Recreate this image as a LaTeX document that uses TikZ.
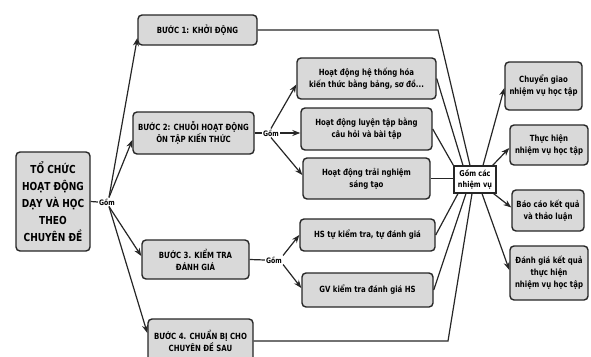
\documentclass[tikz,border=0pt]{standalone}
\usepackage{fontspec}
\setmainfont{DejaVu Sans}[FakeStretch=0.82]
\usetikzlibrary{arrows.meta}
\begin{document}
\begin{tikzpicture}[
  x=1pt, y=-1pt,
  font=\bfseries\fontsize{8.5}{12}\selectfont,
  box/.style={draw=boxline, line width=1.4pt, fill=boxfill, rounded corners=4pt,
              align=center, inner sep=2pt},
  hub/.style={draw=boxline, line width=1.1pt, fill=white, align=center,
              inner sep=1.5pt, minimum width=42pt, minimum height=27pt,
              font=\bfseries\fontsize{8}{11}\selectfont},
  lbl/.style={font=\bfseries\fontsize{7.5}{9}\selectfont, inner sep=1pt},
  link/.style={draw=boxline, line width=1.2pt},
  >={Stealth[length=8pt,width=6pt]}
]
  \definecolor{boxfill}{HTML}{D9D9D9}
  \definecolor{boxline}{HTML}{262626}
  \useasboundingbox (0,0) rectangle (591,356);

  % ================= ROOT =================
  \node[box, minimum width=74pt, minimum height=99pt,
        font=\bfseries\fontsize{11}{17}\selectfont] (root) at (53,201.5)
    {TỔ CHỨC\\HOẠT ĐỘNG\\DẠY VÀ HỌC\\THEO\\CHUYÊN ĐỀ};
  \node[lbl] (g1) at (107,202) {Gồm};

  % ================= STEPS =================
  \node[box, minimum width=119pt, minimum height=30pt] (b1) at (197.5,30)
    {BƯỚC 1: KHỞI ĐỘNG};
  \node[box, minimum width=121pt, minimum height=42pt] (b2) at (193.5,133)
    {BƯỚC 2: CHUỖI HOẠT ĐỘNG\\ÔN TẬP KIẾN THỨC};
  \node[box, minimum width=107pt, minimum height=39pt] (b3) at (195.5,259.5)
    {BƯỚC 3. KIỂM TRA\\ĐÁNH GIÁ};
  \node[box, minimum width=105pt, minimum height=44pt] (b4) at (200.5,341)
    {BƯỚC 4. CHUẨN BỊ CHO\\CHUYÊN ĐỀ SAU};

  \node[lbl] (g2) at (271,133) {Gồm};
  \node[lbl] (g3) at (274,260) {Gồm};

  % ================= ACTIVITIES =================
  \node[box, minimum width=139pt, minimum height=41pt] (h1) at (366.5,78.5)
    {Hoạt động hệ thống hóa\\kiến thức bằng bảng, sơ đồ...};
  \node[box, minimum width=131pt, minimum height=42pt] (h2) at (366.5,129)
    {Hoạt động luyện tập bằng\\câu hỏi và bài tập};
  \node[box, minimum width=127pt, minimum height=41pt] (h3) at (366.5,178.5)
    {Hoạt động trải nghiệm\\sáng tạo};
  \node[box, minimum width=135pt, minimum height=32pt] (k1) at (367.5,235)
    {HS tự kiểm tra, tự đánh giá};
  \node[box, minimum width=131pt, minimum height=34pt] (k2) at (367.5,290)
    {GV kiểm tra đánh giá HS};

  % ================= TASKS =================
  \node[hub] (gc) at (475,179.5) {Gồm các\\nhiệm vụ};
  \node[box, minimum width=77pt, minimum height=48pt] (r1) at (543.5,86)
    {Chuyển giao\\nhiệm vụ học tập};
  \node[box, minimum width=78pt, minimum height=40pt] (r2) at (549,145)
    {Thực hiện\\nhiệm vụ học tập};
  \node[box, minimum width=72pt, minimum height=41pt] (r3) at (548,210.5)
    {Báo cáo kết quả\\và thảo luận};
  \node[box, minimum width=78pt, minimum height=54pt] (r4) at (549,273)
    {Đánh giá kết quả\\thực hiện\\nhiệm vụ học tập};

  \coordinate (c1) at (438,30);
  \coordinate (c4) at (448,341);

  % ================= CONNECTORS =================
  \draw[link] (root.east) -- (g1.west);
  \draw[link, ->] ([xshift=2pt]g1.north) -- ([yshift=-8pt]b1.west);
  \draw[link, ->] ([xshift=2pt]g1.north) -- ([yshift=-7pt]b2.west);
  \draw[link, ->] ([xshift=2pt]g1.south) -- ([yshift=3.5pt]b3.west);
  \draw[link, ->] ([xshift=2pt]g1.south) -- ([yshift=8pt]b4.west);

  \draw[link] (b2.east) -- (g2.west);
  \draw[link, ->] (g2.north) -- ([yshift=-6pt]h1.west);
  \draw[link, ->] (g2.east) -- ([yshift=-4pt]h2.west);
  \draw[link, ->] (g2.south) -- ([yshift=3.5pt]h3.west);

  \draw[link] (b3.east) -- (g3.west);
  \draw[link, ->] (g3.north east) -- (k1.west);
  \draw[link, ->] (g3.south east) -- ([yshift=2pt]k2.west);

  \draw[link] (b1.east) -- (c1) -- ([xshift=-5pt]gc.north);
  \draw[link] (h1.east) -- ([xshift=-12pt]gc.north);
  \draw[link] (h2.east) -- (gc.north west);
  \draw[link] (h3.east) -- (h3.east -| gc.west);
  \draw[link] (k1.east) -- ([xshift=-17pt]gc.south);
  \draw[link] (k2.east) -- ([xshift=-9pt]gc.south);
  \draw[link] (b4.east) -- (c4) -- ([xshift=-3pt]gc.south);

  \draw[link, ->] ([xshift=8pt]gc.north) -- ([yshift=-2pt]r1.west);
  \draw[link, ->] ([xshift=-4pt]gc.north east) -- ([yshift=-3pt]r2.west);
  \draw[link, ->] ([xshift=-3pt]gc.south east) -- ([yshift=3pt]r3.west);
  \draw[link, ->] ([xshift=7pt]gc.south) -- ([yshift=3pt]r4.west);
\end{tikzpicture}
\end{document}
